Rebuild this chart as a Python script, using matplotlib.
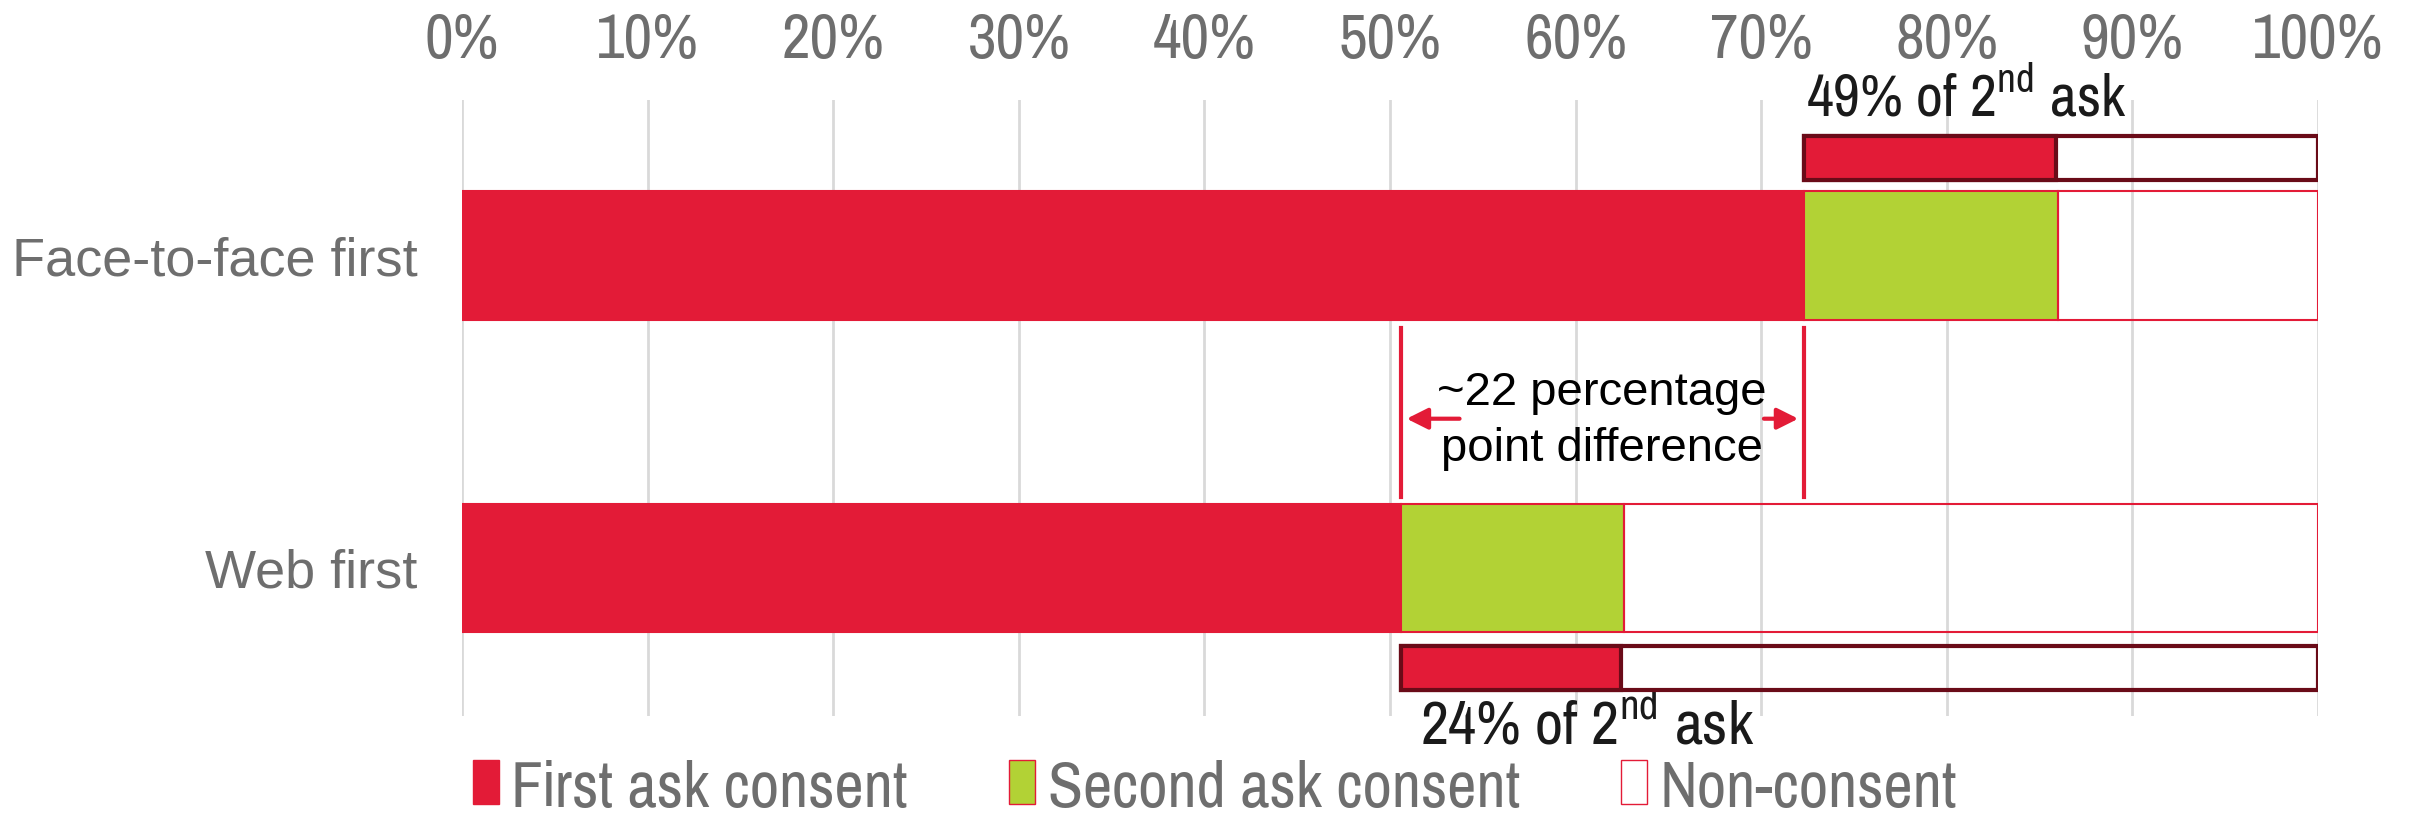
import matplotlib.pyplot as plt
from matplotlib.patches import Patch

narrow = ['Pragati Narrow', 'Archivo Narrow', 'Liberation Sans', 'DejaVu Sans']
plt.rcParams['font.family'] = narrow
plt.rcParams['mathtext.fontset'] = 'custom'
plt.rcParams['mathtext.rm'] = 'Pragati Narrow'

# consent rates by mode of first approach (% of sample)
modes = ['Web first', 'Face-to-face first']
first_ask = [50.6, 72.3]
second_ask = [12.0, 13.7]
non_consent = [37.4, 14.0]
# share of those asked a second time who then consented
second_share = [24, 49]
gap_label = '~22 percentage\npoint difference'
ticks = list(range(0, 101, 10))

red = '#E31B37'
green = '#B2D235'
maroon = '#6A0B18'
grey = '#6E6E6E'

fig = plt.figure(figsize=(24.15, 8.13), dpi=100)
ax = fig.add_axes([0.1913, 0.1193, 0.7685, 0.7577])

ypos = [0, 1]
h = 0.41
ax.barh(ypos, first_ask, height=h, color=red, edgecolor=red, linewidth=1.5, zorder=3)
ax.barh(ypos, second_ask, left=first_ask, height=h, color=green, edgecolor=red,
        linewidth=1.5, zorder=3)
left_non = [f + s for f, s in zip(first_ask, second_ask)]
ax.barh(ypos, non_consent, left=left_non, height=h, facecolor='none', edgecolor=red,
        linewidth=1.5, zorder=3)

# small bars: second-ask consent as a share of everyone asked twice
inset_y = [-0.320, 1.313]
inset_h = 0.14
for y, f, sh in zip(inset_y, first_ask, second_share):
    pool = 100 - f
    ax.barh(y, pool, left=f, height=inset_h, facecolor='none', edgecolor=maroon,
            linewidth=3, zorder=4)
    ax.barh(y, pool * sh / 100, left=f, height=inset_h, color=red, edgecolor=maroon,
            linewidth=3, zorder=4)

ax.text(first_ask[1] + 0.1, 1.505, '%d%% of 2$^{\\rm nd}$ ask' % second_share[1],
        fontsize=46, color='#1A1A1A', ha='left', va='center')
ax.text(first_ask[0] + 1.0, -0.505, '%d%% of 2$^{\\rm nd}$ ask' % second_share[0],
        fontsize=48, color='#1A1A1A', ha='left', va='center')

# bracket showing the first-ask gap
for x in first_ask:
    ax.plot([x, x], [0.227, 0.768], color=red, linewidth=3, zorder=5)
ax.annotate('', xy=(first_ask[0] + 0.15, 0.478), xytext=(first_ask[0] + 3.3, 0.478),
            arrowprops=dict(arrowstyle='-|>', color=red, lw=3, mutation_scale=32))
ax.annotate('', xy=(first_ask[1] - 0.15, 0.478), xytext=(first_ask[1] - 2.3, 0.478),
            arrowprops=dict(arrowstyle='-|>', color=red, lw=3, mutation_scale=32))
ax.text(61.4, 0.47, gap_label, fontsize=34, color='black', ha='center', va='center',
        linespacing=1.35, zorder=6, family=['Liberation Sans', 'DejaVu Sans'])

ax.set_xlim(0, 100)
ax.set_ylim(-0.473, 1.4975)
ax.set_xticks(ticks)
ax.set_xticklabels(['%d%%' % t for t in ticks])
ax.xaxis.tick_top()
ax.tick_params(axis='x', length=0, pad=22, labelsize=49, labelcolor=grey)
ax.set_yticks(ypos)
ax.set_yticklabels(modes, family=['Liberation Sans', 'DejaVu Sans'])
ax.tick_params(axis='y', length=0, pad=32, labelsize=39, labelcolor=grey)
ax.grid(axis='x', color='#D9D9D9', linewidth=2, zorder=0)
ax.set_axisbelow(True)
for s in ax.spines.values():
    s.set_visible(False)

handles = [Patch(facecolor=red, edgecolor=red),
           Patch(facecolor=green, edgecolor=red),
           Patch(facecolor='white', edgecolor=red)]
fig.legend(handles, ['First ask consent', 'Second ask consent', 'Non-consent'],
           loc='center', bbox_to_anchor=(0.503, 0.03), ncol=3, frameon=False,
           fontsize=50, labelcolor=grey, handlelength=0.38, handleheight=0.6,
           handletextpad=0.18, columnspacing=1.45)

fig.savefig('out.png', dpi=100, facecolor='white')
